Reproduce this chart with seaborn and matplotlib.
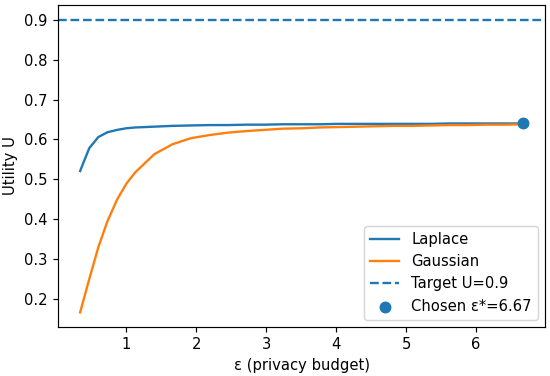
import numpy as np
import pandas as pd
import matplotlib
matplotlib.use("Agg")
import matplotlib.pyplot as plt
import seaborn as sns

# privacy budget grid (finer near the start)
epsilon = [0.34, 0.47, 0.60, 0.73, 0.87, 1.00, 1.13, 1.40, 1.66, 1.92, 2.19, 2.45, 2.72,
           2.98, 3.24, 3.51, 3.77, 4.03, 4.30, 4.56, 4.83, 5.09, 5.35, 5.62, 5.88, 6.14,
           6.41, 6.67]

utility_laplace = [0.521, 0.578, 0.606, 0.618, 0.624, 0.628, 0.630, 0.632, 0.634, 0.635,
                   0.636, 0.636, 0.637, 0.637, 0.638, 0.638, 0.638, 0.639, 0.639, 0.639,
                   0.639, 0.639, 0.639, 0.640, 0.640, 0.640, 0.640, 0.640]
utility_gaussian = [0.167, 0.250, 0.330, 0.395, 0.450, 0.489, 0.518, 0.563, 0.588, 0.603,
                    0.611, 0.617, 0.621, 0.624, 0.627, 0.628, 0.630, 0.631, 0.632, 0.633,
                    0.634, 0.634, 0.635, 0.636, 0.636, 0.637, 0.637, 0.638]

target_u = 0.9
chosen_eps = 6.67
chosen_u = 0.640

df = pd.DataFrame({
    "epsilon": epsilon * 2,
    "utility": utility_laplace + utility_gaussian,
    "mechanism": ["Laplace"] * len(epsilon) + ["Gaussian"] * len(epsilon),
})

# render at a slightly larger scale so text matches the reference
DPI = 106
fig, ax = plt.subplots(figsize=(550 / DPI, 376 / DPI), dpi=DPI)

sns.lineplot(data=df, x="epsilon", y="utility", hue="mechanism",
             palette=["tab:blue", "tab:orange"], ax=ax, linewidth=1.6)
ax.axhline(target_u, linestyle="--", color="tab:blue", linewidth=1.6, label=f"Target U={target_u}")
ax.scatter([chosen_eps], [chosen_u], s=50, color="tab:blue", zorder=5,
           label=f"Chosen ε*={chosen_eps}")

ax.set_xlabel("ε (privacy budget)")
ax.set_ylabel("Utility U")
ax.legend(loc="lower right", title=None)

fig.subplots_adjust(left=58 / 550, right=545 / 550, top=1 - 5 / 376, bottom=1 - 327 / 376)
plt.savefig("out.png", dpi=DPI)
plt.close()
